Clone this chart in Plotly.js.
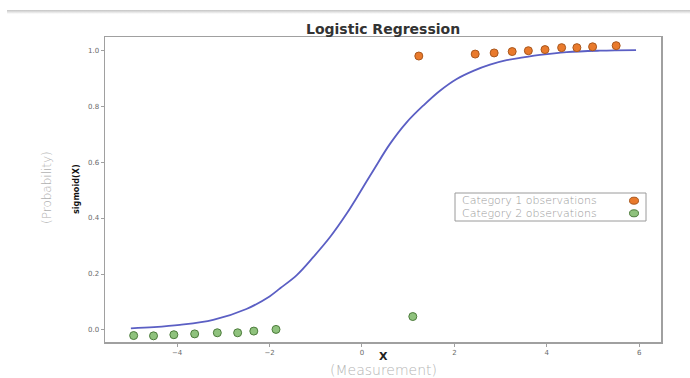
<!DOCTYPE html>
<html>
<head>
<meta charset="utf-8">
<script src="https://cdn.plot.ly/plotly-3.0.1.min.js"></script>
<style>
  html, body { margin: 0; padding: 0; background: #fff; }
  #chart { width: 690px; height: 378px; }
  #hdr { position: absolute; top: 10px; left: 7px; right: 0; height: 4px;
         background: linear-gradient(#c4c4c4, #ffffff); }
</style>
</head>
<body>
<div id="chart"></div>
<div id="hdr"></div>
<script>
// Category 1 observations (orange)
const cat1X = [1.23, 2.45, 2.86, 3.25, 3.60, 3.96, 4.32, 4.65, 4.99, 5.50];
const cat1Y = [0.979, 0.986, 0.990, 0.995, 0.998, 1.002, 1.009, 1.009, 1.012, 1.016];
// Category 2 observations (green)
const cat2X = [-4.94, -4.51, -4.07, -3.62, -3.13, -2.69, -2.34, -1.86, 1.10];
const cat2Y = [-0.020, -0.021, -0.017, -0.014, -0.010, -0.010, -0.004, 0.002, 0.048];
// Fitted logistic curve
const curveX = [-5.0, -4.5, -3.94, -3.22, -2.50, -2.0, -1.77, -1.41, -1.05, -0.69, -0.33, -0.15,
                0.245, 0.606, 0.967, 1.327, 1.688, 2.05, 2.41, 2.77, 3.13, 3.49, 3.85, 4.43, 5.15, 5.93];
const curveY = [0.006, 0.010, 0.018, 0.036, 0.075, 0.120, 0.149, 0.196, 0.261, 0.332, 0.416, 0.463,
                0.570, 0.665, 0.742, 0.802, 0.855, 0.897, 0.926, 0.948, 0.964, 0.974, 0.983, 0.993, 0.998, 1.0];
const xTicks = [-4, -2, 0, 2, 4, 6];
const yTicks = [0, 0.2, 0.4, 0.6, 0.8, 1.0];
const legendLabels = ['Category 1 observations', 'Category 2 observations'];

const W = 690, H = 378;
const M = {l: 105, r: 29, t: 37, b: 36};
const PW = W - M.l - M.r, PH = H - M.t - M.b;
const px = x => (x - M.l) / PW;      // pixel -> paper x
const py = y => (H - M.b - y) / PH;  // pixel -> paper y

const orange = {fill: '#e97a2c', line: '#a9571d'};
const green = {fill: '#8fc27d', line: '#4d7c3c'};

const traces = [
  {x: curveX, y: curveY, type: 'scatter', mode: 'lines', line: {color: '#5b5fc4', width: 1.8, shape: 'spline', smoothing: 1},
   showlegend: false, hoverinfo: 'skip'},
  {x: cat1X, y: cat1Y, type: 'scatter', mode: 'markers', name: legendLabels[0], showlegend: false,
   marker: {color: orange.fill, size: 8, line: {color: orange.line, width: 1}}},
  {x: cat2X, y: cat2Y, type: 'scatter', mode: 'markers', name: legendLabels[1], showlegend: false,
   marker: {color: green.fill, size: 8, line: {color: green.line, width: 1}}}
];

const axisCommon = {
  showgrid: false, zeroline: false, showline: true, mirror: true,
  linecolor: '#a0a0a0', linewidth: 1.5,
  ticks: 'outside', ticklen: 3, tickcolor: '#a0a0a0', tickwidth: 1,
  tickfont: {family: 'DejaVu Sans', size: 7, color: '#6a6a6a'}
};

const legendRows = [200.7, 213.3];
const shapes = [
  {type: 'rect', xref: 'paper', yref: 'paper', x0: px(455), x1: px(646), y0: py(221), y1: py(193),
   line: {color: '#9a9a9a', width: 1}, fillcolor: 'rgba(255,255,255,0.9)'}
];
const markerStyles = [orange, green];
legendRows.forEach((r, i) => {
  shapes.push({type: 'circle', xref: 'paper', yref: 'paper', xsizemode: 'pixel', ysizemode: 'pixel',
    xanchor: px(634), yanchor: py(r), x0: -4.5, x1: 4.5, y0: -3.5, y1: 3.5,
    fillcolor: markerStyles[i].fill, line: {color: markerStyles[i].line, width: 1}});
});

const annotations = [
  {text: 'Logistic Regression', xref: 'paper', yref: 'paper', x: 0.5, y: py(29), xanchor: 'center', yanchor: 'middle',
   showarrow: false, font: {family: 'DejaVu Sans', size: 14, color: '#333', weight: 'bold'}},
  {text: 'X', xref: 'paper', yref: 'paper', x: 0.5, y: py(356), xanchor: 'center', yanchor: 'middle',
   showarrow: false, font: {family: 'DejaVu Sans', size: 11, color: '#222', weight: 'bold'}},
  {text: '(Measurement)', xref: 'paper', yref: 'paper', x: 0.5, y: py(369.5), xanchor: 'center', yanchor: 'middle',
   showarrow: false, font: {family: 'DejaVu Sans', size: 14, color: '#b4b4b4', weight: 300}},
  {text: 'sigmoid(X)', xref: 'paper', yref: 'paper', x: px(76), y: py(189), xanchor: 'center', yanchor: 'middle',
   textangle: -90, showarrow: false, font: {family: 'DejaVu Sans Condensed', size: 9, color: '#111', weight: 'bold'}},
  {text: '(Probability)', xref: 'paper', yref: 'paper', x: px(47), y: py(188), xanchor: 'center', yanchor: 'middle',
   textangle: -90, showarrow: false, font: {family: 'DejaVu Sans', size: 12, color: '#b0b0b0', weight: 300}}
];
legendRows.forEach((r, i) => {
  annotations.push({text: legendLabels[i], xref: 'paper', yref: 'paper', x: px(460), y: py(r),
    xanchor: 'left', yanchor: 'middle', showarrow: false,
    font: {family: 'DejaVu Sans', size: 11, color: '#9a9a9a', weight: 300}});
});

const layout = {
  width: W, height: H, margin: M,
  paper_bgcolor: '#fff', plot_bgcolor: '#fff',
  showlegend: false,
  xaxis: Object.assign({}, axisCommon, {range: [-5.56, 6.47], tickvals: xTicks, ticktext: xTicks.map(v => v < 0 ? '\u2212' + Math.abs(v) : String(v))}),
  yaxis: Object.assign({}, axisCommon, {range: [-0.043, 1.047], tickvals: yTicks, tickformat: '.1f'}),
  shapes: shapes,
  annotations: annotations
};

Plotly.newPlot('chart', traces, layout, {displayModeBar: false, staticPlot: true});
</script>
</body>
</html>
